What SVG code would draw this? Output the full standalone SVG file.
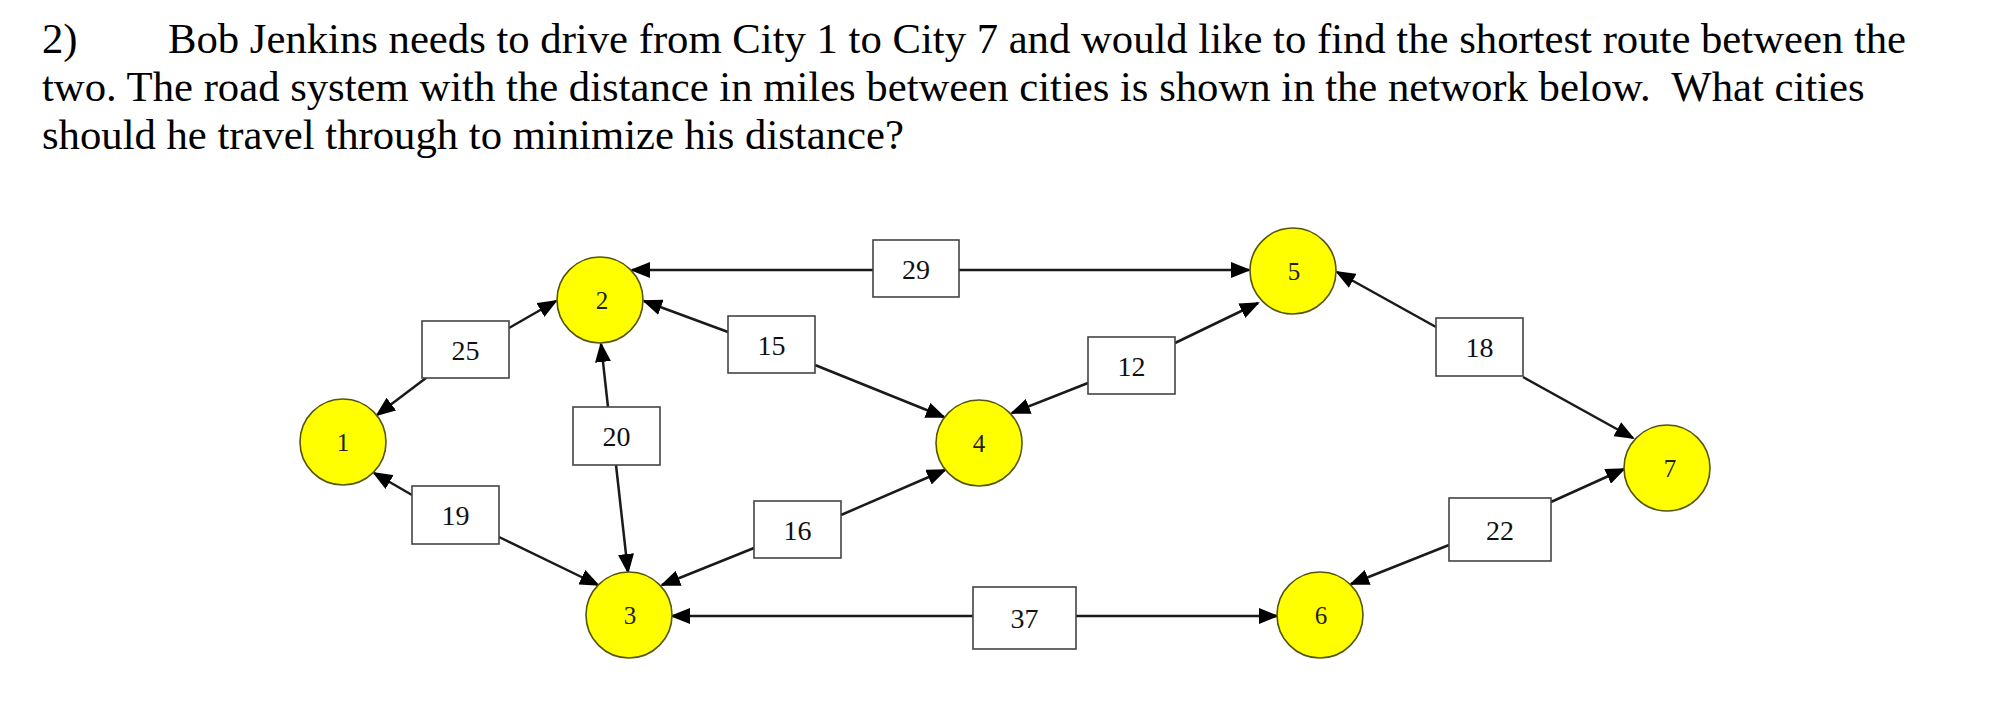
<svg xmlns="http://www.w3.org/2000/svg" width="2014" height="720" viewBox="0 0 2014 720">
<defs>
<style>
.q{font-family:"Liberation Serif","Times New Roman",serif;font-size:42.7px;fill:#000;white-space:pre}
.node circle{fill:#ffff00;stroke:#55550f;stroke-width:1.6}
.node text{font-family:"Liberation Serif","Times New Roman",serif;font-size:25px;fill:#222;text-anchor:middle}
.lbl rect{fill:#fff;stroke:#444;stroke-width:1.6}
.lbl text{font-family:"Liberation Serif","Times New Roman",serif;font-size:28px;fill:#111;text-anchor:middle}
#connectors line{stroke:#1a1a1a;stroke-width:2.5;marker-end:url(#ah)}
</style>
<marker id="ah" markerUnits="userSpaceOnUse" markerWidth="20" markerHeight="16" refX="18" refY="8" orient="auto">
<path d="M0,0 L20,8 L0,16 Z" fill="#000"/>
</marker>
</defs>
<rect width="2014" height="720" fill="#fff"/>
<g id="question">
<text class="q" x="42" y="53">2)</text>
<text class="q" x="168" y="53">Bob Jenkins needs to drive from City 1 to City 7 and would like to find the shortest route between the</text>
<text class="q" x="42" y="101" xml:space="preserve">two. The road system with the distance in miles between cities is shown in the network below.  What cities</text>
<text class="q" x="42" y="149">should he travel through to minimize his distance?</text>
</g>
<g id="connectors">
<line x1="509" y1="328" x2="556" y2="301"/>
<line x1="426" y1="378" x2="377" y2="415"/>
<line x1="728" y1="332" x2="644" y2="301"/>
<line x1="815" y1="365" x2="944" y2="417"/>
<line x1="873" y1="270" x2="632" y2="270"/>
<line x1="959" y1="270" x2="1249" y2="270"/>
<line x1="1088" y1="383" x2="1012" y2="413"/>
<line x1="1175" y1="343" x2="1258" y2="303"/>
<line x1="1436" y1="327" x2="1337" y2="272"/>
<line x1="1523" y1="377" x2="1633" y2="438"/>
<line x1="608" y1="407" x2="601" y2="344"/>
<line x1="616" y1="465" x2="628" y2="572"/>
<line x1="412" y1="495" x2="374" y2="473"/>
<line x1="499" y1="537" x2="598" y2="585"/>
<line x1="754" y1="548" x2="662" y2="585"/>
<line x1="841" y1="515" x2="945" y2="470"/>
<line x1="1449" y1="545" x2="1351" y2="584"/>
<line x1="1551" y1="502" x2="1624" y2="469"/>
<line x1="973" y1="616" x2="672" y2="616"/>
<line x1="1076" y1="616" x2="1277" y2="616"/>
</g>
<g id="label-25" class="lbl"><rect x="422" y="321" width="87" height="57"/><text x="465.5" y="359.5">25</text></g>
<g id="label-15" class="lbl"><rect x="728" y="316" width="87" height="57"/><text x="771.5" y="354.5">15</text></g>
<g id="label-29" class="lbl"><rect x="873" y="240" width="86" height="57"/><text x="916" y="278.5">29</text></g>
<g id="label-12" class="lbl"><rect x="1088" y="337" width="87" height="57"/><text x="1131.5" y="375.5">12</text></g>
<g id="label-18" class="lbl"><rect x="1436" y="318" width="87" height="58"/><text x="1479.5" y="357">18</text></g>
<g id="label-20" class="lbl"><rect x="573" y="407" width="87" height="58"/><text x="616.5" y="446">20</text></g>
<g id="label-19" class="lbl"><rect x="412" y="486" width="87" height="58"/><text x="455.5" y="525">19</text></g>
<g id="label-16" class="lbl"><rect x="754" y="501" width="87" height="57"/><text x="797.5" y="539.5">16</text></g>
<g id="label-22" class="lbl"><rect x="1449" y="498" width="102" height="63"/><text x="1500" y="539.5">22</text></g>
<g id="label-37" class="lbl"><rect x="973" y="587" width="103" height="62"/><text x="1024.5" y="628">37</text></g>
<g id="node1" class="node"><circle cx="343" cy="442" r="43"/><text x="343" y="451">1</text></g>
<g id="node2" class="node"><circle cx="600" cy="300" r="43"/><text x="602" y="309">2</text></g>
<g id="node3" class="node"><circle cx="629" cy="615" r="43"/><text x="630" y="624">3</text></g>
<g id="node4" class="node"><circle cx="979" cy="443" r="43"/><text x="979" y="452">4</text></g>
<g id="node5" class="node"><circle cx="1293" cy="271" r="43"/><text x="1294" y="280">5</text></g>
<g id="node6" class="node"><circle cx="1320" cy="615" r="43"/><text x="1321" y="624">6</text></g>
<g id="node7" class="node"><circle cx="1667" cy="468" r="43"/><text x="1670" y="477">7</text></g>
</svg>
